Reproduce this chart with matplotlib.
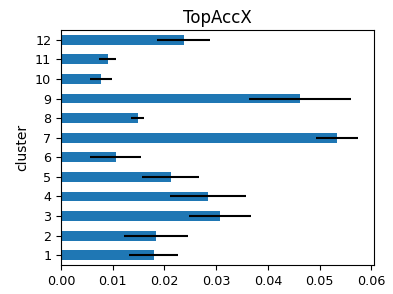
import matplotlib
matplotlib.use("Agg")
import matplotlib.pyplot as plt
import numpy as np

clusters = [1, 2, 3, 4, 5, 6, 7, 8, 9, 10, 11, 12]
values = [0.0179, 0.0184, 0.0308, 0.0284, 0.0212, 0.0106, 0.0534, 0.0148, 0.0462, 0.0077, 0.0090, 0.0237]
errors = [0.0047, 0.0062, 0.0060, 0.0074, 0.0055, 0.0049, 0.0041, 0.0013, 0.0098, 0.0021, 0.0017, 0.0051]
xticks = [0.00, 0.01, 0.02, 0.03, 0.04, 0.05, 0.06]

fig = plt.figure(figsize=(3.93, 2.94), dpi=100)
ax = fig.add_axes([61/393, 1-265/294, (374-61)/393, (265-30)/294])
pos = np.arange(len(clusters))
ax.barh(pos, values, height=0.5, color="#1f77b4", xerr=errors,
        error_kw=dict(ecolor="black", elinewidth=1.5, capsize=0))
ax.set_yticks(pos)
ax.set_yticklabels([str(c) for c in clusters], fontsize=9.2)
ax.set_ylim(-0.5, len(clusters) - 0.5)
ax.set_xticks(xticks)
ax.set_xticklabels([f"{t:.2f}" for t in xticks], fontsize=9.2)
ax.set_xlim(0, 0.0605)
ax.set_ylabel("cluster", fontsize=10, labelpad=4)
ax.set_title("TopAccX", fontsize=12, pad=5)
fig.savefig("out.png", dpi=100)
